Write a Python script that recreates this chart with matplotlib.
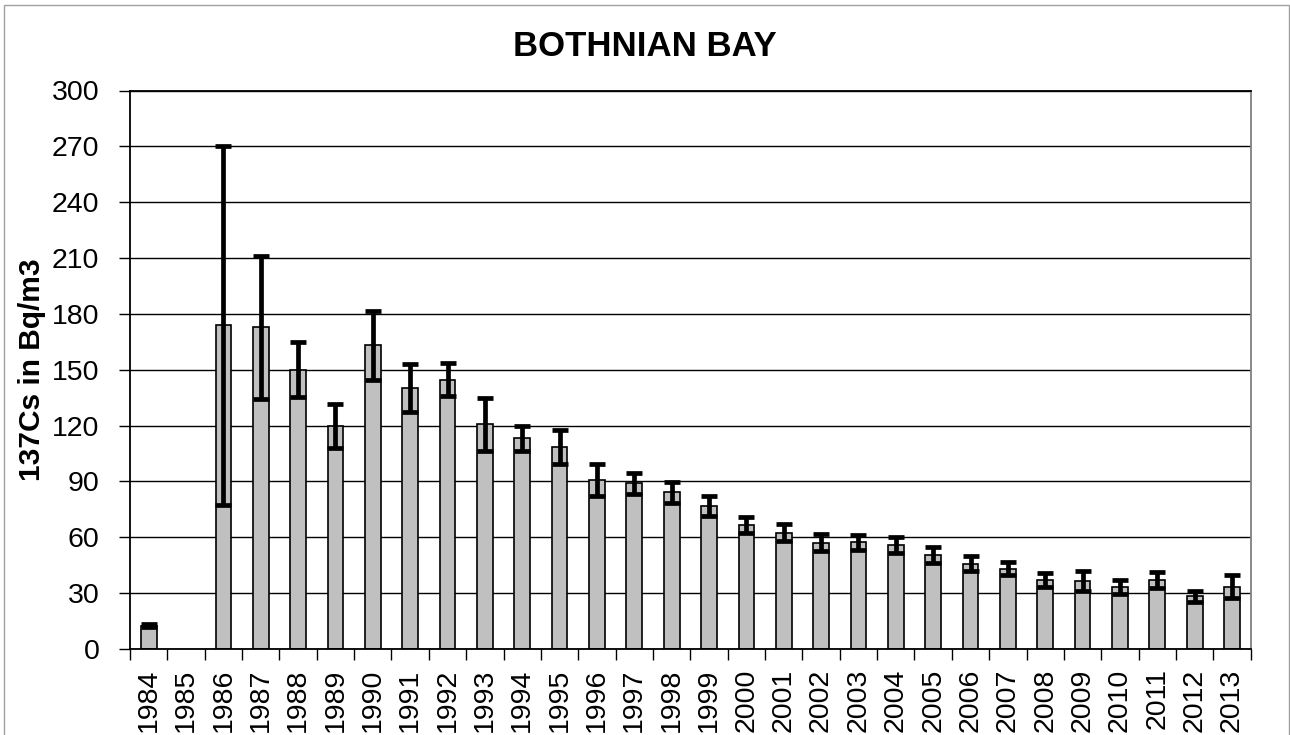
import numpy as np
import matplotlib
matplotlib.use("Agg")
import matplotlib.pyplot as plt
from matplotlib.patches import Rectangle

plt.rcParams['font.family'] = ['Liberation Sans', 'DejaVu Sans']

years = [str(y) for y in range(1984, 2014)]
cs137 = [12.5, np.nan, 173.8, 172.8, 150.1, 120.0, 163.2, 140.1, 144.7, 120.6,
         113.2, 108.6, 90.9, 88.9, 84.2, 76.9, 66.6, 62.5, 57.1, 57.3,
         56.0, 50.6, 45.9, 43.1, 37.0, 36.5, 33.1, 37.0, 28.4, 33.5]
cs137_err = [0.85, np.nan, 96.5, 38.3, 14.6, 11.8, 18.6, 12.8, 8.8, 14.1,
             6.7, 9.2, 8.5, 5.9, 5.7, 5.2, 4.2, 4.4, 4.6, 4.0,
             4.4, 4.3, 3.8, 3.5, 3.8, 5.4, 3.8, 4.3, 3.0, 6.0]
y_ticks = list(range(0, 301, 30))

fig = plt.figure(figsize=(12.9, 7.35), dpi=100)
ax = fig.add_axes([130 / 1290, 1 - 649 / 735, 1120.7 / 1290, (649 - 90.5) / 735])

x = np.arange(len(years))
ax.bar(x, cs137, width=0.42, color='#C0C0C0', edgecolor='black',
       linewidth=1.2, zorder=2)
ax.errorbar(x, cs137, yerr=cs137_err, fmt='none', ecolor='black',
            elinewidth=3.4, capsize=5.9, capthick=3.4, zorder=3)

ax.set_xlim(-0.5, len(years) - 0.5)
ax.set_ylim(0, 300)
ax.set_yticks(y_ticks)
ax.set_yticklabels([str(v) for v in y_ticks], fontsize=20.5)
ax.tick_params(axis='y', direction='out', length=8, width=1, pad=14)

ax.set_xticks(x)
ax.set_xticklabels(years, rotation=90, fontsize=20.5)
ax.set_xticks(np.arange(-0.5, len(years), 1.0), minor=True)
ax.tick_params(axis='x', which='major', length=0, pad=14)
ax.tick_params(axis='x', which='minor', direction='out', length=8, width=1)

ax.grid(axis='y', color='black', linewidth=1.0, zorder=0)
ax.set_axisbelow(True)
for side in ['left', 'bottom', 'top', 'right']:
    ax.spines[side].set_color('black')
    ax.spines[side].set_linewidth(1.3)
ax.spines['right'].set_color('#808080')

ax.set_ylabel('137Cs in Bq/m3', fontsize=21.5, fontweight='bold', labelpad=4)
fig.text(0.5, 1 - 46 / 735, 'BOTHNIAN BAY', ha='center', va='center',
         fontsize=25, fontweight='bold')

# outer chart-area frame
fig.patches.append(Rectangle((4 / 1290, -0.05), 1284.5 / 1290, 1.05 - 5 / 735,
                             transform=fig.transFigure, fill=False,
                             edgecolor='#A0A0A0', linewidth=1.0))

fig.savefig('out.png', dpi=100)
